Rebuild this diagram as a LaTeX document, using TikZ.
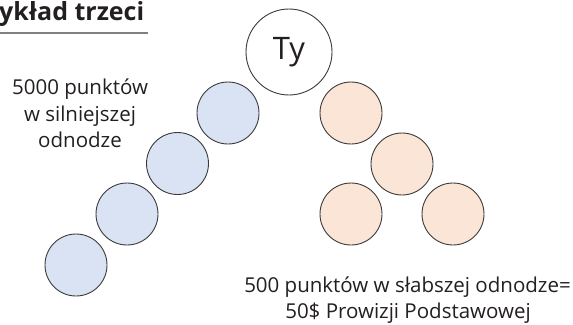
\documentclass[tikz,border=0pt]{standalone}
\usepackage{fontspec}
\setmainfont{Open Sans}
\definecolor{bluefill}{HTML}{DAE3F3}
\definecolor{pinkfill}{HTML}{FBE5D6}
\definecolor{rim}{HTML}{3A3A3A}
\definecolor{ink}{HTML}{231F20}
\begin{document}
\begin{tikzpicture}[x=1pt,y=-1pt,
  ball/.style={circle,draw=rim,line width=0.9pt,minimum size=62pt,inner sep=0pt},
  blueball/.style={ball,fill=bluefill},
  pinkball/.style={ball,fill=pinkfill},
  txt/.style={text=ink,inner sep=0pt,anchor=base,font=\fontsize{20.5}{24}\selectfont}]
\useasboundingbox (0,0) rectangle (573,324);
% title
\node[anchor=base west,inner sep=0pt,text=ink,font=\bfseries\fontsize{25}{29}\selectfont] (title) at (-1,20.5) {ykład trzeci};
\coordinate (ulA) at (0,32.5);
\coordinate (ulB) at (148,32.5);
\draw[gray,line width=2pt] (ulA) -- (ulB);
% top node
\node[ball,fill=white,minimum size=86pt,text=ink,font=\fontsize{31}{35}\selectfont] (you) at (289,52) {Ty};
% blue leg
\node[blueball] (b1) at (228,113) {};
\node[blueball] (b2) at (177.5,163.5) {};
\node[blueball] (b3) at (127,214) {};
\node[blueball] (b4) at (76,265) {};
% pink leg
\node[pinkball] (p1) at (351,113) {};
\node[pinkball] (p2) at (402,164) {};
\node[pinkball] (p3) at (351,214) {};
\node[pinkball] (p4) at (453,214) {};
% left text
\node[txt] (l1) at (80,94.5) {5000 punktów};
\node[txt] (l2) at (80,121) {w silniejszej};
\node[txt] (l3) at (80,147.5) {odnodze};
% bottom text
\node[txt] (r1) at (407.5,292) {500 punktów w słabszej odnodze=};
\node[txt] (r2) at (408,318) {50\$ Prowizji Podstawowej};
\end{tikzpicture}
\end{document}
